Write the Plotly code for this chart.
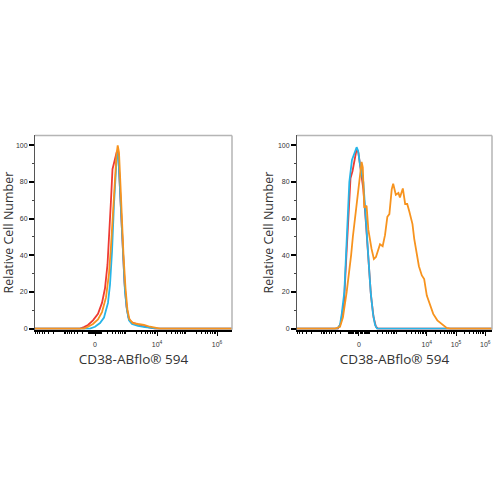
import numpy as np
import plotly.graph_objects as go

# ---- Data (x in display units: decades of a logicle-like scale, 0 at value 0) ----
# Left panel
L_red_x = [-2.0, -0.5, -0.367, -0.233, -0.067, 0.1, 0.233, 0.333, 0.417, 0.483, 0.533, 0.583, 0.633, 0.683, 0.733, 0.777, 0.823, 0.867, 0.917, 0.983, 1.05, 1.117, 1.2, 1.367, 1.567, 1.8, 2.0, 4.567]
L_red_y = [0, 0, 0.8, 2, 4.5, 8, 14, 22, 35, 52, 70, 87, 90, 94, 97, 95, 80, 62, 44, 25, 12, 6, 3.5, 2.5, 1.5, 0.6, 0, 0]
L_cyan_x = [-2.0, -0.167, 0.0, 0.167, 0.3, 0.433, 0.5, 0.567, 0.633, 0.683, 0.733, 0.783, 0.833, 0.883, 0.933, 1.0, 1.067, 1.133, 1.233, 1.433, 1.667, 1.9, 2.1, 4.567]
L_cyan_y = [0, 0, 1, 3, 6, 14, 24, 42, 68, 86, 96, 93, 74, 55, 36, 20, 10, 4.5, 2.5, 1.5, 0.8, 0.3, 0, 0]
L_orange_x = [-2.0, -0.367, -0.233, -0.067, 0.1, 0.233, 0.367, 0.467, 0.533, 0.6, 0.667, 0.717, 0.757, 0.8, 0.85, 0.9, 0.95, 1.017, 1.083, 1.15, 1.267, 1.433, 1.633, 1.833, 2.033, 2.167, 4.567]
L_orange_y = [0, 0, 1, 2.5, 5, 9, 17, 30, 45, 65, 85, 95, 100, 96, 78, 58, 40, 22, 10, 5, 3, 2.5, 2, 1, 0.3, 0, 0]

# Right panel
R_red_x = [-2.12, -0.72, -0.62, -0.51, -0.43, -0.36, -0.29, -0.22, -0.15, -0.08, -0.02, 0.07, 0.15, 0.24, 0.33, 0.41, 0.50, 0.58, 0.65, 4.55]
R_red_y = [0, 0, 3, 15, 40, 65, 82, 86, 93, 98, 96, 86, 76, 57, 38, 18, 6, 1, 0, 0]
R_cyan_x = [-2.12, -0.74, -0.65, -0.59, -0.50, -0.43, -0.33, -0.24, -0.14, -0.08, -0.03, 0.03, 0.15, 0.24, 0.32, 0.40, 0.48, 0.55, 0.62, 4.55]
R_cyan_y = [0, 0, 2, 8, 20, 45, 80, 92, 97, 99, 97, 90, 80, 58, 40, 20, 8, 2, 0, 0]
R_orange_x = [-2.12, -0.82, -0.65, -0.55, -0.42, -0.34, -0.27, -0.21, -0.14, -0.06, 0.02, 0.09, 0.13, 0.18, 0.26, 0.32, 0.43, 0.51, 0.58, 0.66, 0.72, 0.81, 0.89, 0.97, 1.04, 1.12, 1.17, 1.26, 1.35, 1.40, 1.50, 1.58, 1.65, 1.72, 1.83, 1.89, 1.98, 2.05, 2.15, 2.23, 2.32, 2.43, 2.54, 2.68, 2.83, 3.00, 3.12, 4.55]
R_orange_y = [0, 0, 1, 6, 20, 30, 40, 50, 60, 70, 82, 91, 88, 66, 67, 54, 43.5, 38, 39, 43.5, 46, 45, 51, 61, 62.5, 76, 79, 73, 74, 71.5, 76.5, 68, 68, 64, 57, 49, 39, 34, 29, 27, 18, 12.7, 8, 4.5, 2.7, 0.4, 0, 0]

# Axis scale parameters (logicle-like: u = asinh(v / 2c) / ln10)
L_c = 85.7
R_c = 47.9
L_range = [-2.0, 4.567]
R_range = [-2.12, 4.55]
L_labels = {0: "0", 1e4: "10<sup>4</sup>", 1e6: "10<sup>6</sup>"}
R_labels = {0: "0", 1e4: "10<sup>4</sup>", 1e5: "10<sup>5</sup>", 1e6: "10<sup>6</sup>"}
Y_ticks = [0, 20, 40, 60, 80, 100]
Y_minor = [10, 30, 50, 70, 90]
X_title = "CD38-ABflo® 594"
Y_title = "Relative Cell Number"

RED = "#ee3a33"
CYAN = "#27b5e8"
ORANGE = "#f7931e"


def disp(v, c):
    return float(np.arcsinh(float(v) / (2 * c)) / np.log(10))


def ticks(c, rng, labels):
    majors = [0.0] + [s * 10.0 ** k for k in range(2, 7) for s in (1, -1)]
    minors = [10.0, -10.0]
    for k in range(1, 6):
        for m in range(2, 10):
            minors += [m * 10.0 ** k, -m * 10.0 ** k]
    lab_v, lab_t, plain = [], [], []
    for v in majors:
        u = disp(v, c)
        if rng[0] <= u <= rng[1]:
            if v in labels:
                lab_v.append(u)
                lab_t.append(labels[v])
            else:
                plain.append(u)
    nv = [disp(v, c) for v in minors if rng[0] <= disp(v, c) <= rng[1]]
    return lab_v, lab_t, plain, nv


fig = go.Figure()

def add(x, y, color, xa, ya):
    fig.add_trace(go.Scatter(x=x, y=y, mode="lines", line=dict(color=color, width=1.8),
                             xaxis=xa, yaxis=ya, showlegend=False, hoverinfo="skip"))

add(L_red_x, L_red_y, RED, "x", "y")
add(L_cyan_x, L_cyan_y, CYAN, "x", "y")
add(L_orange_x, L_orange_y, ORANGE, "x", "y")
add(R_red_x, R_red_y, RED, "x2", "y2")
add(R_cyan_x, R_cyan_y, CYAN, "x2", "y2")
add(R_orange_x, R_orange_y, ORANGE, "x2", "y2")

tickfont = dict(family="Liberation Sans", size=7, color="#333")
titlefont = dict(family="Open Sans", size=13.5, color="#333")

def xaxes(dom, c, rng, labels, anchor, over):
    lv, lt, plain, nv = ticks(c, rng, labels)
    main = dict(domain=dom, range=rng, anchor=anchor, tickmode="array", tickvals=lv, ticktext=lt,
                ticks="outside", ticklen=5, tickwidth=1, tickcolor="black",
                showline=True, linecolor="black", linewidth=1.5, showgrid=False, zeroline=False,
                tickfont=tickfont, ticklabelstandoff=2,
                minor=dict(tickmode="array", tickvals=nv, ticks="outside", ticklen=3,
                           tickwidth=1, tickcolor="black", showgrid=False),
                title=dict(text=X_title, font=titlefont, standoff=8))
    extra = dict(domain=dom, range=rng, anchor=anchor, overlaying=over, side="bottom",
                 tickmode="array", tickvals=plain, showticklabels=False,
                 ticks="outside", ticklen=5, tickwidth=1, tickcolor="black",
                 showline=False, showgrid=False, zeroline=False)
    return main, extra

def yaxis(dom, anchor):
    return dict(domain=dom, range=[-0.6, 105.4], anchor=anchor, tickmode="array",
                tickvals=Y_ticks, ticks="outside", ticklen=5, tickwidth=1.5,
                tickcolor="black", showline=True, linecolor="#555", linewidth=1,
                showgrid=False, zeroline=False, tickfont=tickfont,
                minor=dict(tickmode="array", tickvals=Y_minor, ticks="outside",
                           ticklen=2, tickwidth=1, tickcolor="#444"),
                title=dict(text=Y_title, font=dict(family="Open Sans", size=12.5, color="#333"), standoff=1))

x1m, x1e = xaxes([0.07, 0.464], L_c, L_range, L_labels, "y", "x")
x2m, x2e = xaxes([0.594, 0.984], R_c, R_range, R_labels, "y2", "x2")

fig.update_layout(
    width=500, height=500, margin=dict(l=0, r=0, t=0, b=0),
    paper_bgcolor="white", plot_bgcolor="white",
    xaxis=x1m, yaxis=yaxis([0.338, 0.728], "x"),
    xaxis2=x2m, yaxis2=yaxis([0.338, 0.728], "x2"),
    xaxis3=x1e, xaxis4=x2e,
)

# light frame (top and right edges)
for x0, x1 in [(0.07, 0.464), (0.594, 0.984)]:
    fig.add_shape(type="line", xref="paper", yref="paper", x0=x0, x1=x1, y0=0.728, y1=0.728,
                  line=dict(color="#b5b5b5", width=1.5))
    fig.add_shape(type="line", xref="paper", yref="paper", x0=x1, x1=x1, y0=0.338, y1=0.728,
                  line=dict(color="#b5b5b5", width=1.5))

fig.write_html("out.html")
